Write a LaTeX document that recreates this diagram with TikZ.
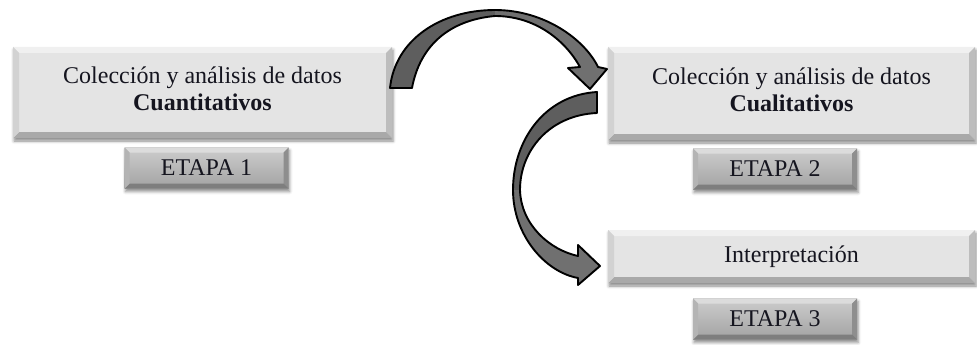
\documentclass[tikz,border=0pt]{standalone}
\usepackage{fontspec}
\setmainfont{Liberation Serif}
\usetikzlibrary{calc,shadows.blur}
\definecolor{bigfill}{HTML}{E4E4E4}
\definecolor{bigtop}{HTML}{F0F0F0}
\definecolor{bigleft}{HTML}{D2D2D2}
\definecolor{bigbot}{HTML}{A9A9A9}
\definecolor{bigright}{HTML}{BDBDBD}
\definecolor{stgtop}{HTML}{CDCDCD}
\definecolor{stgbot}{HTML}{A2A2A2}
\definecolor{stgbtop}{HTML}{DCDCDC}
\definecolor{stgbleft}{HTML}{B4B4B4}
\definecolor{stgbbot}{HTML}{7E7E7E}
\definecolor{stgbright}{HTML}{8E8E8E}
\definecolor{arrowL}{HTML}{5E5E5E}
\definecolor{arrowR}{HTML}{707070}
\definecolor{txt}{HTML}{15151F}
\newcommand\mybevel[5]{%
  \coordinate (A) at (path picture bounding box.north west);
  \coordinate (B) at (path picture bounding box.north east);
  \coordinate (C) at (path picture bounding box.south east);
  \coordinate (D) at (path picture bounding box.south west);
  \coordinate (a) at ($(A)+(#1,-#1)$);
  \coordinate (b) at ($(B)+(-#1,-#1)$);
  \coordinate (c) at ($(C)+(-#1,#1)$);
  \coordinate (d) at ($(D)+(#1,#1)$);
  \fill[#2] (A)--(B)--(b)--(a)--cycle;
  \fill[#5] (B)--(C)--(c)--(b)--cycle;
  \fill[#4] (C)--(D)--(d)--(c)--cycle;
  \fill[#3] (D)--(A)--(a)--(d)--cycle;
}
\tikzset{
  bigbox/.style={inner sep=0pt, align=center, fill=bigfill, text=txt,
    font=\fontsize{24}{27}\selectfont,
    blur shadow={shadow xshift=1pt, shadow yshift=-3pt, shadow blur radius=3pt, shadow opacity=45},
    path picture={\mybevel{6pt}{bigtop}{bigleft}{bigbot}{bigright}}},
  stagebox/.style={inner sep=0pt, align=center, top color=stgtop, bottom color=stgbot, text=txt,
    font=\fontsize{24}{27}\selectfont,
    minimum width=164pt, minimum height=41pt,
    blur shadow={shadow xshift=1pt, shadow yshift=-3pt, shadow blur radius=3pt, shadow opacity=45},
    path picture={\mybevel{5pt}{stgbtop}{stgbleft}{stgbbot}{stgbright}}},
  arrowshape/.style={draw=black, line width=1.9pt, line join=round}
}
\begin{document}
\begin{tikzpicture}[x=1pt,y=-1pt]
\useasboundingbox (0,0) rectangle (977,345);
% boxes
\node[bigbox, minimum width=379pt, minimum height=91pt] (b1) at (202.5,92.5) {};
\node[bigbox, minimum width=367pt, minimum height=93pt] (b2) at (791.5,93.5) {};
\node[bigbox, minimum width=367pt, minimum height=53pt] (b3) at (791.5,256.5)
  {Interpretación};
\node[align=center, text=txt, font=\fontsize{24}{27}\selectfont, inner sep=0pt]
  (t1) at ([yshift=4pt]b1.center) {Colección y análisis de datos\\\textbf{Cuantitativos}};
\node[align=center, text=txt, font=\fontsize{24}{27}\selectfont, inner sep=0pt]
  (t2) at ([yshift=4pt]b2.center) {Colección y análisis de datos\\\textbf{Cualitativos}};
\node[stagebox] (s1) at (206.5,168) {ETAPA 1};
\node[stagebox] (s2) at (775,169) {ETAPA 2};
\node[stagebox] (s3) at (775,319) {ETAPA 3};
% curved arrow 1 (from box 1 to box 2)
\fill[arrowL] (390,88) .. controls (395,40) and (440,10) .. (495,10)
  -- (495,16) .. controls (450,20) and (420,45) .. (412,88) -- cycle;
\fill[arrowR] (495,10) .. controls (545,10) and (585,40) .. (598,67)
  -- (607,69) -- (590,89) -- (568,68) -- (580,67)
  .. controls (565,40) and (535,16) .. (495,16) -- cycle;
\draw[arrowshape] (390,88) .. controls (395,40) and (440,10) .. (495,10)
  .. controls (545,10) and (585,40) .. (598,67)
  -- (607,69) -- (590,89) -- (568,68) -- (580,67)
  .. controls (565,40) and (535,16) .. (495,16)
  .. controls (450,20) and (420,45) .. (412,88) -- cycle;
% curved arrow 2 (from box 2 to box 3)
\fill[arrowL] (597,92) .. controls (545,95) and (513,140) .. (513,190)
  -- (520,190) .. controls (520,150) and (550,115) .. (597,113) -- cycle;
\fill[arrowR] (513,190) .. controls (513,235) and (545,272) .. (578,278)
  -- (578,285) -- (600,266) -- (578,245) -- (578,256)
  .. controls (550,250) and (521,225) .. (520,190) -- cycle;
\draw[arrowshape] (597,92) .. controls (545,95) and (513,140) .. (513,190)
  .. controls (513,235) and (545,272) .. (578,278)
  -- (578,285) -- (600,266) -- (578,245) -- (578,256)
  .. controls (550,250) and (521,225) .. (520,190)
  .. controls (520,150) and (550,115) .. (597,113) -- cycle;
\end{tikzpicture}
\end{document}
